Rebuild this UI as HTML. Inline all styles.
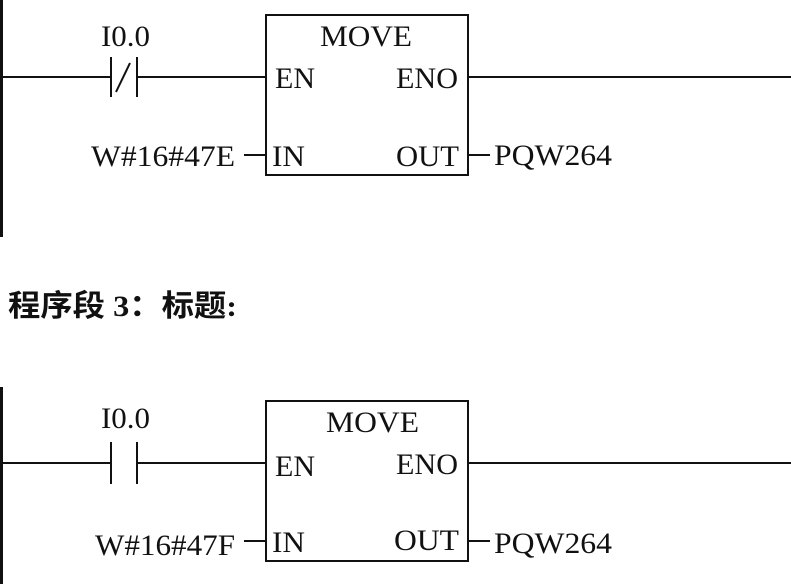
<!DOCTYPE html>
<html><head><meta charset="utf-8"><style>
html,body{margin:0;padding:0;background:#fff;}
svg{display:block;}
text{font-family:"Liberation Serif","Noto Serif CJK SC",serif;font-size:30px;fill:#111;}
.cn{font-family:"Liberation Serif","Noto Sans CJK SC",sans-serif;font-weight:bold;font-size:30px;}
</style></head><body>
<svg width="791" height="584" viewBox="0 0 791 584" xmlns="http://www.w3.org/2000/svg">
<g stroke="#111" fill="none" stroke-width="2">
<line x1="1.5" y1="0" x2="1.5" y2="237" stroke-width="3"/>
<line x1="0" y1="77" x2="111" y2="77"/>
<line x1="111" y1="57" x2="111" y2="97"/>
<line x1="137" y1="57" x2="137" y2="97"/>
<line x1="116" y1="92" x2="130" y2="63"/>
<line x1="137" y1="77" x2="266" y2="77"/>
<rect x="266" y="15" width="202" height="160"/>
<line x1="468" y1="77" x2="791" y2="77"/>
<line x1="244" y1="155" x2="266" y2="155"/>
<line x1="468" y1="155" x2="490" y2="155"/>
<line x1="1.5" y1="387" x2="1.5" y2="584" stroke-width="3"/>
<line x1="0" y1="463" x2="111" y2="463"/>
<line x1="111" y1="442" x2="111" y2="484"/>
<line x1="137" y1="442" x2="137" y2="484"/>
<line x1="137" y1="463" x2="266" y2="463"/>
<rect x="266" y="401" width="202" height="160"/>
<line x1="468" y1="463" x2="791" y2="463"/>
<line x1="244" y1="541" x2="266" y2="541"/>
<line x1="468" y1="541" x2="490" y2="541"/>
</g>
<text x="101" y="46" textLength="49" lengthAdjust="spacingAndGlyphs">I0.0</text>
<text x="320" y="46" textLength="92" lengthAdjust="spacingAndGlyphs">MOVE</text>
<text x="275" y="88" textLength="40" lengthAdjust="spacingAndGlyphs">EN</text>
<text x="396" y="88" textLength="62" lengthAdjust="spacingAndGlyphs">ENO</text>
<text x="272" y="166" textLength="33" lengthAdjust="spacingAndGlyphs">IN</text>
<text x="396" y="166" textLength="63" lengthAdjust="spacingAndGlyphs">OUT</text>
<text x="91" y="166" textLength="144" lengthAdjust="spacingAndGlyphs">W#16#47E</text>
<text x="494" y="165" textLength="118" lengthAdjust="spacingAndGlyphs">PQW264</text>

<text class="cn" x="8" y="316" textLength="229" lengthAdjust="spacingAndGlyphs">程序段 3：标题:</text>

<text x="101" y="428" textLength="49" lengthAdjust="spacingAndGlyphs">I0.0</text>
<text x="326" y="432" textLength="93" lengthAdjust="spacingAndGlyphs">MOVE</text>
<text x="275" y="476" textLength="40" lengthAdjust="spacingAndGlyphs">EN</text>
<text x="396" y="474" textLength="62" lengthAdjust="spacingAndGlyphs">ENO</text>
<text x="272" y="552" textLength="33" lengthAdjust="spacingAndGlyphs">IN</text>
<text x="394" y="550" textLength="65" lengthAdjust="spacingAndGlyphs">OUT</text>
<text x="95" y="555" textLength="140" lengthAdjust="spacingAndGlyphs">W#16#47F</text>
<text x="494" y="553" textLength="118" lengthAdjust="spacingAndGlyphs">PQW264</text>
</svg>
</body></html>
